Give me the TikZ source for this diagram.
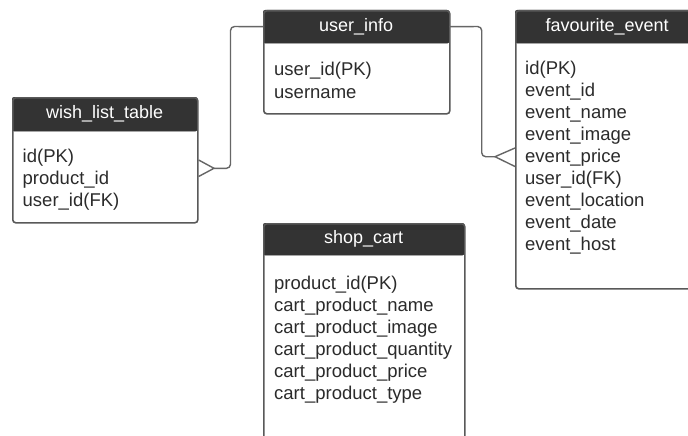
\documentclass[tikz,border=0pt]{standalone}
\usepackage{fontspec}
\setmainfont{Liberation Sans}
\definecolor{hdfill}{HTML}{333333}
\definecolor{bordercol}{HTML}{595959}
\definecolor{linecol}{HTML}{666666}
\definecolor{txtcol}{HTML}{2B2B2B}
\begin{document}
\begin{tikzpicture}[x=1pt,y=-1pt,
  tblbody/.style={draw=bordercol, line width=1.6pt, rounded corners=3pt, anchor=north west, inner sep=0pt},
  tblhead/.style={fill=hdfill, draw=hdfill, rounded corners=2pt, anchor=north west, inner sep=0pt, text=white, font=\fontsize{18}{22}\selectfont},
  fields/.style={anchor=north west, inner sep=0pt, align=left, text=txtcol, font=\fontsize{18.5}{22}\selectfont},
  conn/.style={draw=linecol, line width=1.4pt, rounded corners=4pt},
  foot/.style={draw=linecol, line width=1.4pt}]
\useasboundingbox (0,0) rectangle (688,436);
\fill[white] (0,0) rectangle (688,436);
\clip (0,0) rectangle (688,436);

% wish_list_table
\node[tblhead, minimum width=185pt, minimum height=34pt] (wlh) at (12,97) {wish\_list\_table};
\node[tblbody, minimum width=185pt, minimum height=125pt] (wl) at (12,97) {};
\node[fields] (wlf) at (22.5,147.3) {\strut id(PK)\\product\_id\\user\_id(FK)};

% user_info
\node[tblhead, minimum width=186pt, minimum height=33pt] (uih) at (263,10) {user\_info};
\node[tblbody, minimum width=186pt, minimum height=103pt] (ui) at (263,10) {};
\node[fields] (uif) at (274,60.4) {\strut user\_id(PK)\\username};

% favourite_event
\node[tblhead, minimum width=184pt, minimum height=33pt] (feh) at (515,10) {favourite\_event};
\node[tblbody, minimum width=184pt, minimum height=278pt] (fe) at (515,10) {};
\node[fields] (fef) at (525,59.2) {\strut id(PK)\\event\_id\\event\_name\\event\_image\\event\_price\\user\_id(FK)\\event\_location\\event\_date\\event\_host};

% shop_cart
\node[tblhead, minimum width=201pt, minimum height=32pt] (sch) at (263,223) {shop\_cart};
\node[tblbody, minimum width=201pt, minimum height=240pt] (sc) at (263,223) {};
\node[fields] (scf) at (274,273.6) {\strut product\_id(PK)\\cart\_product\_name\\cart\_product\_image\\cart\_product\_quantity\\cart\_product\_price\\cart\_product\_type};

% connector user_info -> wish_list_table
\coordinate (lfoot) at (214,168.3);
\draw[conn] (uih.west) -- (230.5,26.5) -- (230.5,168.3) -- (lfoot);
\draw[foot] (wl.east |- 0,160) -- (lfoot) -- (wl.east |- 0,176.5);

% connector user_info -> favourite_event
\coordinate (rfoot) at (495,156.7);
\draw[conn] (uih.east) -- (481.7,26.5) -- (481.7,156.7) -- (rfoot);
\draw[foot] (fe.west |- 0,148) -- (rfoot) -- (fe.west |- 0,166.5);
\end{tikzpicture}
\end{document}
